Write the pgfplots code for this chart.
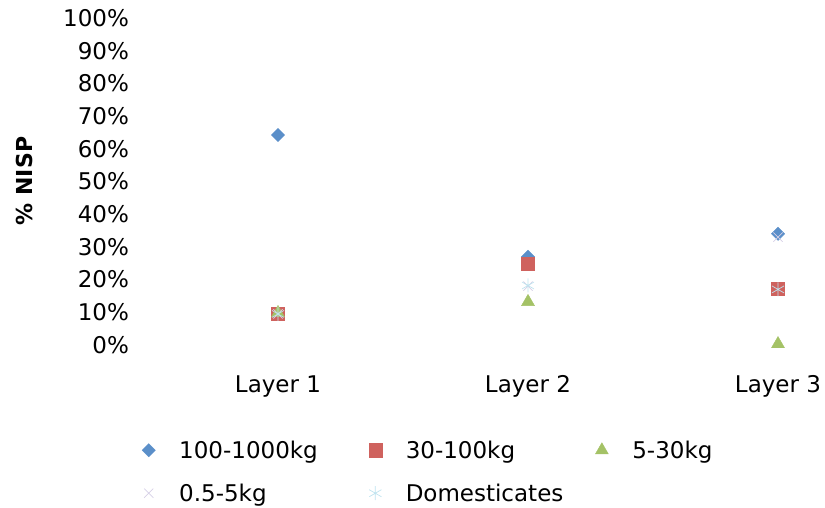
\documentclass[border=0pt]{standalone}
\usepackage{pgfplots}
\pgfplotsset{compat=1.18}
\usepackage{fontspec}
\setmainfont{DejaVu Sans}
\definecolor{cblue}{HTML}{5B8FC9}
\definecolor{cred}{HTML}{CF625E}
\definecolor{cgreen}{HTML}{A4C266}
\definecolor{cpurple}{HTML}{D6D0E6}
\definecolor{ccyan}{HTML}{BFE3EF}
\begin{document}
\begin{tikzpicture}
\useasboundingbox (0,0) rectangle (825pt,508pt);
\begin{axis}[
  at={(140.5pt,163pt)}, anchor=south west,
  scale only axis, width=685pt, height=327pt,
  xmin=0.45, xmax=3.19, ymin=0, ymax=100,
  clip=false,
  axis line style={draw=none},
  major tick length=0pt,
  xtick={1,2,3}, xticklabels={Layer 1,Layer 2,Layer 3},
  ytick={0,10,...,100},
  yticklabel={\pgfmathprintnumber{\tick}\%},
  /pgf/number format/assume math mode=true,
  ticklabel style={font=\fontsize{23}{26}\selectfont},
  yticklabel style={anchor=east, xshift=-8pt},
  xticklabel style={yshift=-27pt},
  legend columns=3,
  legend style={draw=none, fill=none, at={(rel axis cs:-0.003,-0.28)}, anchor=north west,
    font=\fontsize{23}{26}\selectfont, row sep=20pt, column sep=0pt,
    nodes={inner sep=2pt}},
  legend cell align=left,
  legend image code/.code={\path[draw=none] (-0.25cm,0) -- (1.0cm,0); \draw[#1] plot coordinates {(0cm,0cm)};},
]
\addplot[only marks, mark=square*, mark size=4.7pt, mark options={rotate=45, draw=cblue, fill=cblue}, color=cblue]
  coordinates {(1,64.2) (2,27.0) (3,34.0)};
\addlegendentry{\makebox[187pt][l]{100-1000kg}}
\addplot[only marks, mark=square*, mark size=6.6pt, mark options={draw=cred, fill=cred}, color=cred]
  coordinates {(1,9.5) (2,24.8) (3,17.2)};
\addlegendentry{\makebox[187pt][l]{30-100kg}}
\addplot[only marks, mark=triangle*, mark size=7.5pt, mark options={draw=cgreen, fill=cgreen}, color=cgreen]
  coordinates {(1,9.8) (2,13.2) (3,0.3)};
\addlegendentry{5-30kg}
\addplot[only marks, mark=x, mark size=6.5pt, mark options={draw=cpurple, line width=0.7pt}, color=cpurple]
  coordinates {(1,9.5) (2,18.0) (3,33.0)};
\addlegendentry{\makebox[187pt][l]{0.5-5kg}}
\addplot[only marks, mark=asterisk, mark size=7pt, mark options={draw=ccyan, line width=0.7pt}, color=ccyan]
  coordinates {(1,9.5) (2,18.2) (3,17.0)};
\addlegendentry{Domesticates}
\end{axis}
\node[rotate=90, font=\fontsize{22}{24}\selectfont\bfseries] at (24pt,327pt) {\% NISP};
\end{tikzpicture}
\end{document}
